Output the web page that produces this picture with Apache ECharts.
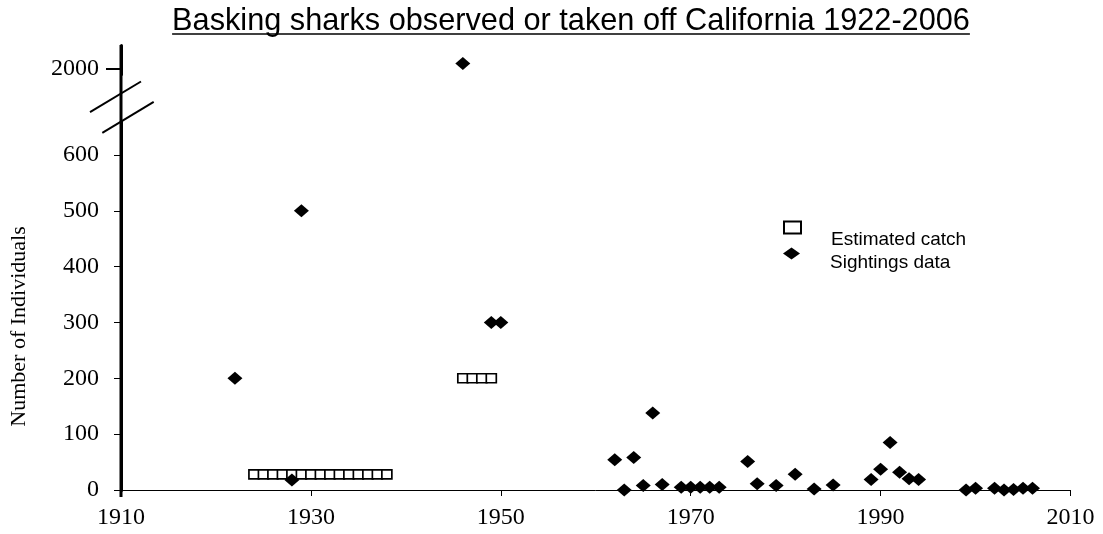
<!DOCTYPE html>
<html><head><meta charset="utf-8">
<script src="https://cdn.jsdelivr.net/npm/echarts@6/dist/echarts.min.js"></script>
<style>html,body{margin:0;padding:0;background:#fff}#c{width:1103px;height:534px}</style>
</head><body><div id="c"></div>
<script>
const titleText = 'Basking sharks observed or taken off California 1922-2006';
const yAxisName = 'Number of Individuals';
const seriesNames = ['Estimated catch', 'Sightings data'];
const catchYears = [1924,1925,1926,1927,1928,1929,1930,1931,1932,1933,1934,1935,1936,1937,1938,1946,1947,1948,1949];
const catchValues = [28,28,28,28,28,28,28,28,28,28,28,28,28,28,28,200,200,200,200];
const sightYears = [1922,1928,1929,1946,1949,1950,1962,1963,1964,1965,1966,1967,1969,1970,1971,1972,1973,1976,1977,1979,1981,1983,1985,1989,1990,1991,1992,1993,1994,1999,2000,2002,2003,2004,2005,2006];
const sightValues = [200,18,500,2010,300,300,54,0,58,8,138,10,5,5,5,5,5,51,11,8,28,2,9,19,37,85,32,20,19,0,3,3,0,1,3,3];
const yTickValues = [0,100,200,300,400,500,600,2000];
const xTickValues = [1910,1930,1950,1970,1990,2010];
const yBreak = {start: 660, end: 1990, gap: 84};

const chart = echarts.init(document.getElementById('c'), null, {renderer: 'canvas'});
const serif = '"Liberation Serif", "Times New Roman", serif';
const sans = '"Liberation Sans", Arial, sans-serif';
const plain = v => String(v);

function legendFor(name, icon, top, lh) {
  return {
    orient: 'vertical', left: 783, top: top, padding: 0,
    itemWidth: 17, itemHeight: 12,
    data: [{name: name, icon: icon}],
    formatter: '{t|{name}}',
    textStyle: {
      fontFamily: sans, fontSize: 19, color: '#000',
      rich: {t: {fontFamily: sans, fontSize: 19, color: '#000', lineHeight: lh, verticalAlign: 'bottom', padding: [0, 0, 0, 25]}}
    }
  };
}

const option = {
  backgroundColor: '#fff',
  animation: false,
  title: {
    text: titleText, left: 571, top: 6, padding: 0, textAlign: 'center',
    textStyle: {fontFamily: sans, fontSize: 30.7, fontWeight: 'normal', color: '#000'}
  },
  legend: [
    legendFor(seriesNames[0], 'rect', 220.5, 43),
    legendFor(seriesNames[1], 'diamond', 247.5, 37)
  ],
  grid: {left: 121, right: 32.5, top: 45, bottom: 44, outerBoundsMode: 'none', containLabel: false},
  xAxis: {
    type: 'value', min: 1910, max: 2010, interval: 20,
    axisLine: {show: true, lineStyle: {color: '#000', width: 1}},
    axisTick: {show: true, length: 6, lineStyle: {color: '#000', width: 1}},
    axisLabel: {fontFamily: serif, fontSize: 24, color: '#000', margin: 16, formatter: plain},
    splitLine: {show: false}
  },
  yAxis: {
    type: 'value', min: 0, max: 2043,
    breaks: [yBreak],
    breakArea: {show: false},
    name: yAxisName, nameLocation: 'middle', nameGap: 91,
    nameTextStyle: {fontFamily: serif, fontSize: 22, color: '#000', padding: [0, 118, 0, 0]},
    axisLine: {show: true, lineStyle: {color: '#000', width: 3}},
    axisTick: {show: true, length: 7, customValues: yTickValues, lineStyle: {color: '#000', width: 1}},
    axisLabel: {fontFamily: serif, fontSize: 24, color: '#000', margin: 22, customValues: yTickValues, formatter: plain},
    splitLine: {show: false}
  },
  series: [
    {
      name: seriesNames[0], type: 'scatter', symbol: 'rect', symbolSize: [10, 9],
      itemStyle: {color: '#fff', borderColor: '#000', borderWidth: 1.6, opacity: 1},
      data: catchYears.map((y, i) => [y, catchValues[i]]), z: 2
    },
    {
      name: seriesNames[1], type: 'scatter', symbol: 'diamond', symbolSize: [15, 13],
      itemStyle: {color: '#000', opacity: 1},
      data: sightYears.map((y, i) => [y, sightValues[i]]), z: 3
    }
  ]
};
chart.setOption(option);

// decorations: continuous axis line through break, break slashes, title underline
const ax = chart.convertToPixel({xAxisIndex: 0}, 1910);
const yLow = chart.convertToPixel({yAxisIndex: 0}, yBreak.start);
const yUp = yLow - 28;
const yMax = chart.convertToPixel({yAxisIndex: 0}, 2043);
const y0 = chart.convertToPixel({yAxisIndex: 0}, 0);
const ctx = document.createElement('canvas').getContext('2d');
ctx.font = '30.7px ' + sans;
const tw = ctx.measureText(titleText).width;
const yTop = chart.convertToPixel({yAxisIndex: 0}, 2000);
chart.setOption({
  graphic: [
    {type: 'line', shape: {x1: ax, y1: yMax, x2: ax, y2: y0 + 7}, style: {stroke: '#000', lineWidth: 3}, z: 9},
    {type: 'line', shape: {x1: ax - 31, y1: yUp + 18.7, x2: ax + 20, y2: yUp - 12}, style: {stroke: '#000', lineWidth: 2}, z: 10},
    {type: 'line', shape: {x1: ax - 18.7, y1: yLow + 11.3, x2: ax + 32.7, y2: yLow - 19.7}, style: {stroke: '#000', lineWidth: 2}, z: 10},
    {type: 'line', shape: {x1: ax - 15, y1: yTop, x2: ax, y2: yTop}, style: {stroke: '#000', lineWidth: 2}, z: 10},
    {type: 'line', shape: {x1: 571 - tw / 2, y1: 34, x2: 571 + tw / 2, y2: 34}, style: {stroke: '#000', lineWidth: 1.5}, z: 10}
  ]
});
</script></body></html>
